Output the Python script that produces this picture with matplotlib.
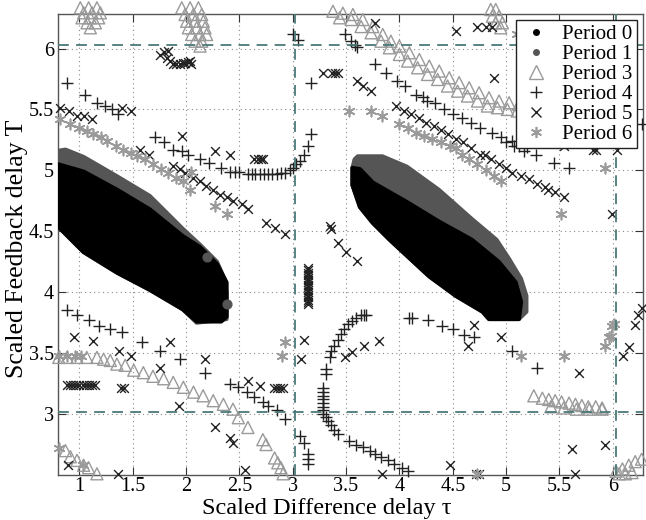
import matplotlib
matplotlib.use("Agg")
import matplotlib.pyplot as plt
from matplotlib.lines import Line2D
import numpy as np

plt.rcParams['font.family'] = ['Liberation Serif', 'DejaVu Serif']

# ---------------- data ----------------
# Period 0 / Period 1 regions (outlines of the filled areas)
p1_left_x = [0.80, 0.87, 1.04, 1.355, 1.66, 1.97, 2.13, 2.29, 2.36, 2.38, 2.38, 2.10, 1.97, 1.66, 1.355, 1.04, 0.80]
p1_left_y = [5.16, 5.17, 5.11, 4.95, 4.79, 4.52, 4.39, 4.25, 4.11, 4.00, 3.78, 3.75, 3.86, 4.02, 4.16, 4.33, 4.54]
p0_left_x = [0.80, 1.04, 1.355, 1.66, 1.97, 2.13, 2.29, 2.38, 2.38, 2.33, 2.10, 1.97, 1.66, 1.355, 1.04, 0.80]
p0_left_y = [5.05, 4.99, 4.84, 4.68, 4.46, 4.37, 4.23, 4.08, 3.80, 3.76, 3.76, 3.86, 4.02, 4.16, 4.33, 4.54]
p1_right_x = [3.58, 3.61, 3.84, 4.07, 4.37, 4.68, 4.91, 5.03, 5.14, 5.19, 5.19, 5.12, 4.84, 4.78, 4.53, 4.28, 4.07, 3.91, 3.75, 3.63, 3.56, 3.56]
p1_right_y = [5.09, 5.115, 5.115, 5.03, 4.84, 4.60, 4.43, 4.27, 4.11, 3.97, 3.84, 3.78, 3.78, 3.84, 3.97, 4.13, 4.30, 4.43, 4.57, 4.70, 4.88, 5.02]
p0_right_x = [3.56, 3.63, 3.75, 4.07, 4.37, 4.68, 4.93, 5.09, 5.14, 5.12, 4.84, 4.78, 4.53, 4.28, 4.07, 3.91, 3.75, 3.63, 3.56]
p0_right_y = [5.02, 5.01, 4.90, 4.74, 4.58, 4.43, 4.25, 4.08, 3.92, 3.78, 3.78, 3.84, 3.97, 4.13, 4.30, 4.43, 4.57, 4.70, 4.88]
p1_dots_x = [2.20, 2.38]
p1_dots_y = [4.29, 3.90]

# Period 3 (triangles)
p3_x = [1.009, 1.087, 1.165, 1.041, 1.119, 1.197, 1.025, 1.103, 1.181, 1.072, 1.15, 1.103,
        1.96, 2.038, 2.116, 1.991, 2.069, 2.147, 2.006, 2.084, 2.162, 2.022, 2.10, 2.178, 2.053, 2.131, 2.193, 2.084, 2.147, 2.131,
        4.856, 4.903, 4.872, 4.934, 4.903, 4.965, 4.95,
        3.377, 3.47, 3.564, 3.657, 3.75, 3.844, 3.92, 4.0, 4.093, 4.187, 4.28, 4.373, 4.467, 4.56, 4.654, 4.747, 4.84, 4.934, 5.028, 5.12,
        3.439, 3.548, 3.641, 3.735, 3.828, 3.906, 4.0, 4.077, 4.171, 4.264, 4.358, 4.451, 4.545, 4.638, 4.732, 4.825, 4.918, 5.012, 5.105,
        0.807, 0.885, 0.978, 1.07, 1.165, 1.227, 1.29, 1.352, 1.43, 1.51, 1.60, 1.69, 1.79, 1.88, 1.975, 2.07, 2.16, 2.255, 2.35, 2.44,
        2.49, 2.58, 2.72, 2.75, 2.83, 2.86, 2.89, 2.91,
        0.87, 0.916, 0.978, 1.04, 1.087, 1.165,
        5.26, 5.34, 5.40, 5.46, 5.52, 5.59, 5.65, 5.71, 5.77, 5.84, 5.90, 5.42, 5.54, 5.66, 5.78, 5.90,
        6.03, 6.09, 6.15, 6.21, 6.27, 6.06, 6.12, 6.18]
p3_y = [6.334, 6.334, 6.334, 6.293, 6.293, 6.293, 6.252, 6.252, 6.252, 6.211, 6.211, 6.17,
        6.334, 6.334, 6.334, 6.279, 6.279, 6.279, 6.224, 6.224, 6.224, 6.17, 6.17, 6.17, 6.115, 6.115, 6.115, 6.06, 6.06, 6.02,
        6.32, 6.32, 6.265, 6.265, 6.211, 6.211, 6.17,
        6.306, 6.29, 6.279, 6.238, 6.18, 6.115, 6.06, 6.02, 5.965, 5.91, 5.856, 5.815, 5.76, 5.72, 5.678, 5.637, 5.596, 5.569, 5.555, 5.54,
        6.252, 6.238, 6.18, 6.129, 6.06, 6.006, 5.951, 5.897, 5.842, 5.787, 5.746, 5.692, 5.65, 5.61, 5.569, 5.528, 5.514, 5.50, 5.487,
        3.465, 3.465, 3.465, 3.465, 3.465, 3.45, 3.44, 3.41, 3.40, 3.36, 3.34, 3.31, 3.29, 3.26, 3.22, 3.18, 3.15, 3.11, 3.08, 3.04,
        2.97, 2.89, 2.79, 2.75, 2.64, 2.60, 2.56, 2.51,
        2.70, 2.65, 2.62, 2.58, 2.56, 2.51,
        3.15, 3.13, 3.12, 3.11, 3.10, 3.09, 3.08, 3.07, 3.06, 3.06, 3.05, 3.06, 3.05, 3.04, 3.04, 3.04,
        2.53, 2.55, 2.58, 2.61, 2.63, 2.51, 2.51, 2.52]

# Period 4 (plus)
p4_x = [0.885, 1.056, 1.165, 1.243, 1.305, 1.367,
        1.71, 1.79, 1.88, 1.96, 2.02, 2.13, 2.22, 2.33, 2.41, 2.46, 2.50,
        2.58, 2.62, 2.65, 2.69, 2.73, 2.77, 2.81, 2.85, 2.89, 2.93,
        2.97, 3.00, 3.03, 3.07, 3.11, 3.14, 3.17, 3.17,
        3.00, 3.05, 3.49, 3.55, 3.58, 3.60,
        3.77, 3.875, 3.98, 4.05, 4.16, 4.22, 4.26, 4.33, 4.42, 4.50, 4.59, 4.67, 4.76, 4.87, 4.95, 5.00, 5.06, 5.07, 5.12, 5.17, 5.20, 5.28, 5.45, 5.59,
        6.27,
        0.885, 0.978, 1.087, 1.18, 1.29, 1.40, 1.59, 1.76, 1.94, 2.18,
        2.41, 2.49, 2.57, 2.64, 2.72, 2.77, 2.85, 2.93,
        3.07, 3.11, 3.14, 3.14, 3.14,
        3.28, 3.28, 3.28, 3.28, 3.28, 3.28, 3.28, 3.28,
        3.31, 3.31, 3.345, 3.36, 3.39, 3.42, 3.45, 3.48, 3.52, 3.56, 3.59, 3.64, 3.67, 3.69,
        3.31, 3.33, 3.36, 3.39, 3.42, 3.53, 3.59, 3.66, 3.72, 3.77, 3.83, 3.89, 3.95, 4.02, 4.08,
        4.09, 4.12, 4.265, 4.40, 4.50, 4.61, 4.70, 5.06, 5.29]
p4_y = [5.72, 5.62, 5.555, 5.53, 5.50, 5.46,
        5.27, 5.23, 5.17, 5.16, 5.13, 5.09, 5.06, 5.02, 4.99, 4.99, 4.99,
        4.97, 4.97, 4.97, 4.97, 4.97, 4.97, 4.97, 4.97, 4.98, 4.98,
        5.00, 5.02, 5.05, 5.08, 5.13, 5.20, 5.30, 5.72,
        6.12, 6.07, 6.115, 6.06, 6.03, 6.01,
        5.87, 5.80, 5.73, 5.69, 5.62, 5.60, 5.57, 5.555, 5.50, 5.46, 5.43, 5.39, 5.35, 5.31, 5.27, 5.23, 5.24, 5.20, 5.20, 5.16, 5.19, 5.13, 5.06, 5.02,
        5.38,
        3.85, 3.81, 3.77, 3.72, 3.70, 3.67, 3.59, 3.52, 3.45, 3.34,
        3.25, 3.22, 3.18, 3.14, 3.10, 3.07, 3.03, 2.96,
        2.82, 2.76, 2.67, 2.63, 2.59,
        3.21, 3.18, 3.15, 3.12, 3.09, 3.06, 3.03, 3.00,
        3.37, 3.33, 3.47, 3.52, 3.56, 3.61, 3.66, 3.70, 3.74, 3.76, 3.79, 3.81, 3.81, 3.81,
        2.98, 2.94, 2.91, 2.87, 2.84, 2.78, 2.75, 2.73, 2.70, 2.67, 2.645, 2.62, 2.59, 2.56, 2.53,
        3.79, 3.79, 3.77, 3.72, 3.70, 3.65, 3.63, 3.52, 3.38]

# Period 5 (cross)
p5_x = [0.82, 0.90, 0.98, 1.04, 1.12, 1.40, 1.48,
        1.57, 1.65, 1.96, 2.27, 2.41,
        1.88, 1.94, 1.99, 2.07, 2.13, 2.19, 2.255, 2.32, 2.38, 2.44, 2.52, 2.58, 2.75, 2.83, 2.925,
        1.76, 1.79, 1.82, 1.85, 1.88, 1.91, 1.94, 1.97, 1.99, 2.02, 2.04, 2.05, 1.83,
        2.64, 2.67, 2.70, 2.72,
        3.28, 3.37, 3.40, 3.42, 3.60, 3.66, 3.73, 3.77,
        3.97, 4.04, 4.11, 4.18, 4.25, 4.32, 4.39, 4.46, 4.53, 4.60, 4.67, 4.76, 4.80, 4.86, 4.93, 5.00, 5.06, 5.14, 5.21, 5.29, 5.36, 5.39, 5.46, 5.54,
        4.53, 4.73, 4.81, 4.87, 4.89, 5.54, 5.81, 5.84, 6.04, 5.99,
        3.35, 3.36, 3.42, 3.50, 3.60,
        3.49, 3.56, 3.67, 3.81, 4.70, 4.64, 4.95, 5.68, 5.93, 5.62, 4.47, 3.84, 4.72, 4.75, 5.65,
        6.10, 6.15, 6.21, 6.24, 6.27,
        3.11, 3.08, 2.58, 2.69, 2.82, 2.85, 2.88, 2.91,
        3.14, 3.14, 3.14, 3.14, 3.14, 3.14, 3.14, 3.14, 3.14, 3.14, 3.14, 3.14, 3.14, 3.14, 3.14, 3.14,
        0.95, 1.13, 1.37, 1.48, 1.85, 2.18, 1.76, 1.93, 2.27, 2.41, 2.44, 2.55,
        0.88, 0.91, 0.94, 0.97, 1.00, 1.03, 1.06, 1.09, 1.12, 1.15, 1.39, 1.42,
        0.89, 1.36]
p5_y = [5.51, 5.49, 5.45, 5.45, 5.42, 5.51, 5.49,
        5.17, 5.13, 5.28, 5.16, 5.13,
        5.035, 5.01, 4.98, 4.94, 4.91, 4.87, 4.84, 4.80, 4.78, 4.75, 4.72, 4.68, 4.57, 4.53, 4.475,
        5.95, 5.97, 5.92, 5.90, 5.87, 5.87, 5.87, 5.88, 5.88, 5.89, 5.90, 5.87, 5.98,
        5.09, 5.09, 5.09, 5.09,
        5.80, 5.80, 5.80, 5.80, 5.73, 5.69, 5.65, 6.21,
        5.53, 5.49, 5.46, 5.43, 5.39, 5.36, 5.33, 5.30, 5.26, 5.23, 5.18, 5.13, 5.13, 5.09, 5.05, 5.02, 4.98, 4.95, 4.93, 4.89, 4.86, 4.84, 4.82, 4.78,
        6.14, 6.18, 6.18, 6.18, 5.76, 5.20, 5.17, 5.17, 5.17, 4.64,
        4.54, 4.52, 4.40, 4.33, 4.26,
        3.47, 3.51, 3.56, 3.60, 3.73, 3.56, 3.635, 3.34, 2.75, 2.71, 2.58, 2.51, 2.51, 2.51, 2.51,
        3.48, 3.55, 3.73, 3.81, 3.87,
        3.61, 3.45, 3.27, 3.23, 3.21, 3.21, 3.21, 3.21,
        3.90, 3.92, 3.94, 3.96, 3.98, 4.00, 4.02, 4.04, 4.06, 4.08, 4.10, 4.12, 4.14, 4.16, 4.18, 4.20,
        3.63, 3.60, 3.52, 3.48, 3.59, 3.45, 3.38, 3.07, 2.89, 2.80, 2.76, 2.54,
        3.24, 3.24, 3.24, 3.24, 3.24, 3.24, 3.24, 3.24, 3.24, 3.24, 3.21, 3.21,
        2.58, 2.51]

# Period 6 (asterisk)
p6_x = [0.82, 0.916, 0.994, 1.07, 1.13, 1.20, 1.26, 1.34, 1.41, 1.48, 1.54, 1.62, 1.69, 1.77, 1.83, 1.91, 1.975, 2.04,
        2.05, 2.27, 2.38,
        3.53, 3.73, 3.84,
        4.00, 4.08, 4.16, 4.23, 4.31, 4.39, 4.47, 4.53, 4.59, 4.65, 4.73, 4.81, 4.89, 4.95,
        5.51, 5.93, 5.10, 6.01, 5.98, 5.14, 5.54, 5.99, 5.96, 5.93, 4.73,
        2.93, 2.90, 0.81, 0.885, 0.96, 1.02, 0.81, 1.035]
p6_y = [5.42, 5.38, 5.35, 5.32, 5.295, 5.27, 5.24, 5.20, 5.17, 5.145, 5.12, 5.09, 5.05, 5.01, 4.98, 4.94, 4.91, 4.84,
        4.99, 4.71, 4.64,
        5.49, 5.49, 5.445,
        5.38, 5.35, 5.31, 5.28, 5.26, 5.23, 5.20, 5.18, 5.13, 5.09, 5.05, 5.00, 4.95, 4.91,
        4.64, 5.02, 6.115, 3.74, 3.64, 3.48, 3.48, 3.72, 3.63, 3.56, 2.51,
        3.59, 3.48, 3.48, 3.48, 3.48, 3.48, 2.72, 2.58]

legend_labels = ['Period 0', 'Period 1', 'Period 3', 'Period 4', 'Period 5', 'Period 6']
x_ticks = [1, 1.5, 2, 2.5, 3, 3.5, 4, 4.5, 5, 5.5, 6]
y_ticks = [3, 3.5, 4, 4.5, 5, 5.5, 6]
guide_lines = [3.02, 6.03]

# ---------------- plot ----------------
C0 = '#000000'
C1 = '#555555'
CL = '#9a9a9a'
CK = '#222222'

fig = plt.figure(figsize=(6.46, 5.20), dpi=100)
ax = fig.add_axes([58/646, 1-475/520, (643-58)/646, (475-14)/520])
ax.set_xlim(0.8, 2*np.pi)
ax.set_ylim(2.5, 2*np.pi)

ax.fill(p1_left_x, p1_left_y, facecolor=C1, edgecolor=C1, lw=3, joinstyle='round', zorder=2)
ax.fill(p1_right_x, p1_right_y, facecolor=C1, edgecolor=C1, lw=3, joinstyle='round', zorder=2)
ax.fill(p0_left_x, p0_left_y, facecolor=C0, edgecolor=C0, lw=3, joinstyle='round', zorder=3)
ax.fill(p0_right_x, p0_right_y, facecolor=C0, edgecolor=C0, lw=3, joinstyle='round', zorder=3)
ax.scatter(p1_dots_x, p1_dots_y, s=40, color=C1, zorder=4)

ax.scatter(p3_x, p3_y, marker='^', s=75, facecolors='none', edgecolors=CL, linewidths=1.0, zorder=5, clip_on=False)
ax.scatter(p4_x, p4_y, marker='+', s=70, color=CK, linewidths=1.0, zorder=5, clip_on=False)
ax.scatter(p5_x, p5_y, marker='x', s=40, color=CK, linewidths=1.0, zorder=5, clip_on=False)
ax.scatter(p6_x, p6_y, marker=(6, 2, 0), s=55, color=CL, linewidths=1.2, zorder=5, clip_on=False)

for v in guide_lines:
    ax.axhline(v, color='#4a7a78', lw=1.3, dashes=(6, 4), zorder=6)
    ax.axvline(v, color='#4a7a78', lw=1.3, dashes=(6, 4), zorder=6)

ax.set_xticks(x_ticks)
ax.set_xticklabels([f'{t:g}' for t in x_ticks])
ax.set_yticks(y_ticks)
ax.set_yticklabels([f'{t:g}' for t in y_ticks])
ax.grid(True, color='#8a8a8a', lw=0.8, dashes=(1, 3))
ax.set_axisbelow(True)
ax.tick_params(direction='in', top=True, right=True, length=6, labelsize=14.5, pad=3, color='#333333')
ax.tick_params(axis='x', pad=1.5)
for sp in ax.spines.values():
    sp.set_color('#555555')
    sp.set_linewidth(1.0)

ax.set_xlabel('Scaled Difference delay τ', fontsize=17.5, va='bottom')
ax.xaxis.set_label_coords(0.46, -(519 - 475) / 461)
ax.set_ylabel('Scaled Feedback delay T', fontsize=18.5)
ax.yaxis.set_label_coords(-0.052, 0.49)

handles = [
    Line2D([], [], ls='none', marker='o', ms=4, color=C0),
    Line2D([], [], ls='none', marker='o', ms=4, color=C1),
    Line2D([], [], ls='none', marker='^', ms=10, mfc='none', mec=CL, mew=1.0),
    Line2D([], [], ls='none', marker='+', ms=9, color=CK, mew=1.0),
    Line2D([], [], ls='none', marker='x', ms=6.5, color=CK, mew=1.0),
    Line2D([], [], ls='none', marker=(6, 2, 0), ms=8, color=CL, mew=1.2),
]
leg = ax.legend(handles, legend_labels, loc='upper right', fontsize=15, frameon=True, fancybox=False,
                framealpha=1, edgecolor='#222222', borderaxespad=0.3, handletextpad=0.5,
                labelspacing=0.02, borderpad=0.2, handlelength=1.5)
leg.get_frame().set_linewidth(1.0)
leg.set_zorder(10)

fig.savefig('out.png', dpi=100)
